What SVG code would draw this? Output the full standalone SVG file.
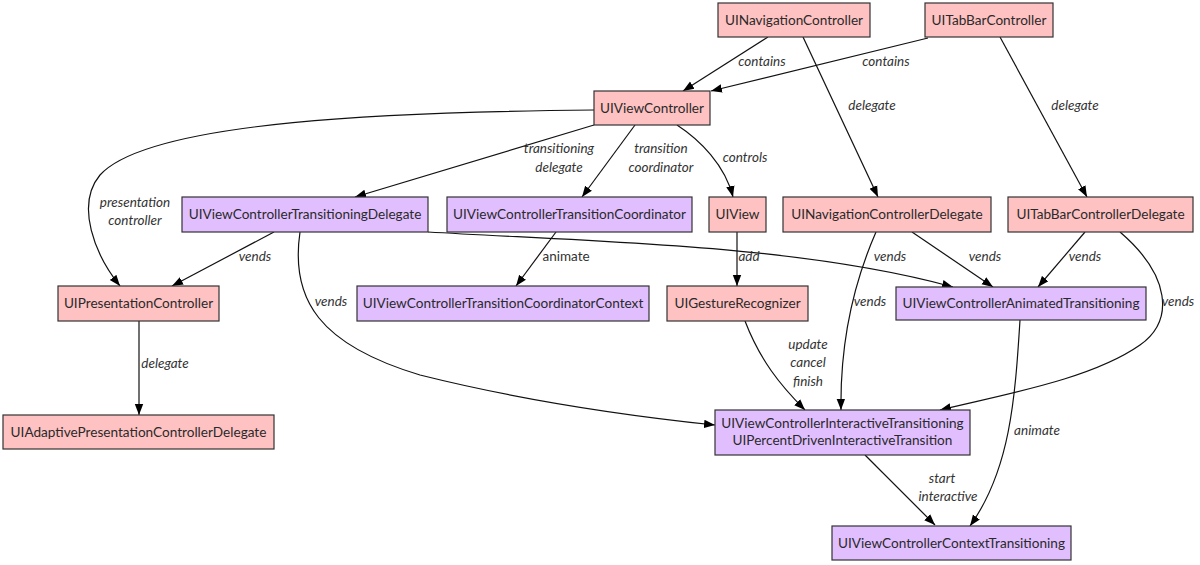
<svg xmlns="http://www.w3.org/2000/svg" width="1200" height="565" viewBox="0 0 1200 565">
<defs>
<marker id="ah" viewBox="0 0 11 10" refX="11" refY="5" markerWidth="11" markerHeight="10" markerUnits="userSpaceOnUse" orient="auto">
<path d="M0,0.8 L11,5 L0,9.2 Z" fill="#000"/>
</marker>
<style>
.pink{fill:#ffc2c2;stroke:#333;stroke-width:1.2}
.purple{fill:#e1bfff;stroke:#333;stroke-width:1.2}
.nt{font-family:Lato,"Noto Sans",sans-serif;font-size:13.6px;fill:#2a2a2a;text-anchor:middle}
.lb{font-family:Lato,"Noto Sans",sans-serif;font-size:13.5px;fill:#333;font-style:italic;text-anchor:middle}
.lbu{font-family:Lato,"Noto Sans",sans-serif;font-size:13.5px;fill:#333;text-anchor:middle}
.e{fill:none;stroke:#111;stroke-width:1.2;marker-end:url(#ah)}
</style>
</defs>
<rect width="1200" height="565" fill="#fff"/>
<g id="connectors">
<path class="e" d="M768,37 L683,91"/>
<path class="e" d="M928,38 L711,91"/>
<path class="e" d="M803,37 L878,197"/>
<path class="e" d="M1000,37 L1087,197"/>
<path class="e" d="M594,110 C400,112 150,120 100,175 C75,205 95,255 120,286"/>
<path class="e" d="M594,125 L355,197"/>
<path class="e" d="M635,125 L582,197"/>
<path class="e" d="M677,125 C700,140 725,165 733,197"/>
<path class="e" d="M274,232 L172,286"/>
<path class="e" d="M428,232 C600,242 800,245 953,287"/>
<path class="e" d="M300,232 C290,300 320,345 420,375 C520,400 620,415 715,425"/>
<path class="e" d="M556,232 L516,286"/>
<path class="e" d="M737,232 L737,286"/>
<path class="e" d="M745,321 C760,360 780,385 805,410"/>
<path class="e" d="M876,232 C855,280 840,340 841,410"/>
<path class="e" d="M912,232 L993,287"/>
<path class="e" d="M139,321 L139,415"/>
<path class="e" d="M1085,232 L1038,287"/>
<path class="e" d="M1120,232 C1170,275 1175,320 1140,345 C1090,380 1000,395 940,410"/>
<path class="e" d="M1020,320 C1015,400 1010,470 970,526"/>
<path class="e" d="M865,455 L935,525"/>
<text class="lb" x="762" y="66">contains</text>
<text class="lb" x="886" y="66">contains</text>
<text class="lb" x="872" y="110">delegate</text>
<text class="lb" x="1075" y="110">delegate</text>
<text class="lb" x="135" y="207">presentation</text>
<text class="lb" x="135" y="225">controller</text>
<text class="lb" x="559" y="153">transitioning</text>
<text class="lb" x="559" y="172">delegate</text>
<text class="lb" x="661" y="153">transition</text>
<text class="lb" x="661" y="172">coordinator</text>
<text class="lb" x="745" y="162">controls</text>
<text class="lb" x="255" y="261">vends</text>
<text class="lb" x="890" y="261">vends</text>
<text class="lb" x="985" y="261">vends</text>
<text class="lb" x="1085" y="261">vends</text>
<text class="lb" x="331" y="306">vends</text>
<text class="lb" x="870" y="306">vends</text>
<text class="lb" x="1178" y="306">vends</text>
<text class="lbu" x="566" y="261">animate</text>
<text class="lb" x="749" y="261">add</text>
<text class="lb" x="808" y="349">update</text>
<text class="lb" x="808" y="367">cancel</text>
<text class="lb" x="808" y="386">finish</text>
<text class="lb" x="165" y="368">delegate</text>
<text class="lb" x="1037" y="435">animate</text>
<text class="lb" x="942" y="483">start</text>
<text class="lb" x="948" y="501">interactive</text>
</g>
<g id="UINavigationController"><rect class="pink" x="718" y="3" width="152" height="34"/><text class="nt" x="794" y="25">UINavigationController</text></g>
<g id="UITabBarController"><rect class="pink" x="925" y="3" width="128" height="34"/><text class="nt" x="989" y="25">UITabBarController</text></g>
<g id="UIViewController"><rect class="pink" x="594" y="91" width="116" height="34"/><text class="nt" x="652" y="113">UIViewController</text></g>
<g id="UIViewControllerTransitioningDelegate"><rect class="purple" x="182" y="197" width="246" height="35"/><text class="nt" x="305" y="219">UIViewControllerTransitioningDelegate</text></g>
<g id="UIViewControllerTransitionCoordinator"><rect class="purple" x="447" y="197" width="245" height="35"/><text class="nt" x="569.5" y="219">UIViewControllerTransitionCoordinator</text></g>
<g id="UIView"><rect class="pink" x="709" y="197" width="57" height="35"/><text class="nt" x="737.5" y="219">UIView</text></g>
<g id="UINavigationControllerDelegate"><rect class="pink" x="783" y="197" width="208" height="35"/><text class="nt" x="887" y="219">UINavigationControllerDelegate</text></g>
<g id="UITabBarControllerDelegate"><rect class="pink" x="1008" y="197" width="185" height="35"/><text class="nt" x="1100.5" y="219">UITabBarControllerDelegate</text></g>
<g id="UIPresentationController"><rect class="pink" x="58" y="286" width="161" height="35"/><text class="nt" x="138.5" y="308">UIPresentationController</text></g>
<g id="UIViewControllerTransitionCoordinatorContext"><rect class="purple" x="357" y="286" width="292" height="35"/><text class="nt" x="503" y="308">UIViewControllerTransitionCoordinatorContext</text></g>
<g id="UIGestureRecognizer"><rect class="pink" x="667" y="286" width="141" height="35"/><text class="nt" x="737.5" y="308">UIGestureRecognizer</text></g>
<g id="UIViewControllerAnimatedTransitioning"><rect class="purple" x="896" y="287" width="250" height="33"/><text class="nt" x="1021" y="308">UIViewControllerAnimatedTransitioning</text></g>
<g id="UIAdaptivePresentationControllerDelegate"><rect class="pink" x="3" y="415" width="271" height="34"/><text class="nt" x="138.5" y="437">UIAdaptivePresentationControllerDelegate</text></g>
<g id="UIViewControllerInteractiveTransitioning"><rect class="purple" x="715" y="410" width="255" height="45"/><text class="nt" x="842.5" y="428">UIViewControllerInteractiveTransitioning</text><text class="nt" x="842.5" y="445">UIPercentDrivenInteractiveTransition</text></g>
<g id="UIViewControllerContextTransitioning"><rect class="purple" x="832" y="526" width="239" height="34"/><text class="nt" x="951.5" y="548">UIViewControllerContextTransitioning</text></g>
</svg>
